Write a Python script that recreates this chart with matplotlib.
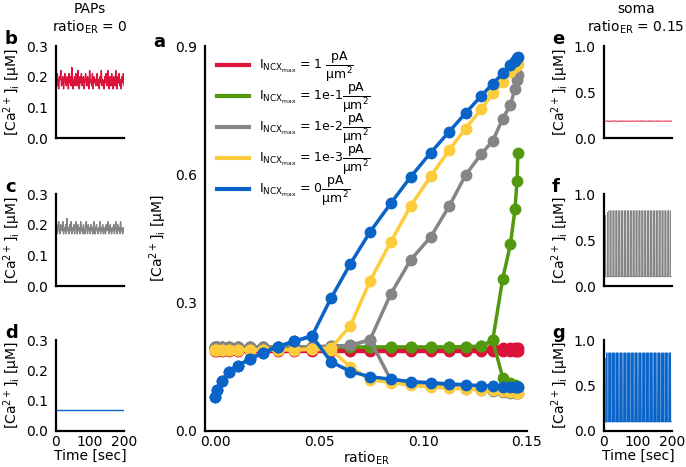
import numpy as np
import matplotlib
matplotlib.use('Agg')
import matplotlib.pyplot as plt
from matplotlib.lines import Line2D

plt.rcParams['font.family'] = ['DejaVu Sans']
plt.rcParams['mathtext.default'] = 'regular'

# ---- colours for the five I_NCXmax values
c_red = '#dc143c'
c_green = '#52990f'
c_gray = '#858585'
c_yellow = '#fdcc3c'
c_blue = '#0a64c8'

# ---- panel a: steady state [Ca2+]i (max / min) vs ratio_ER
ratio_er = [0.0, 0.0008, 0.003, 0.0065, 0.011, 0.0165, 0.023, 0.030, 0.038, 0.0465,
            0.0556, 0.065, 0.0744, 0.0844, 0.094, 0.1037, 0.1126, 0.1204, 0.1279, 0.1335,
            0.1383, 0.142, 0.1442, 0.1452, 0.1456]

red_max = [0.194] * 25
red_min = [0.188] * 25

green_max = [0.196, 0.196, 0.196, 0.196, 0.196, 0.196, 0.196, 0.196, 0.196, 0.196,
             0.196, 0.196, 0.196, 0.196, 0.196, 0.196, 0.196, 0.197, 0.198, 0.212,
             0.356, 0.436, 0.518, 0.585, 0.651]
green_min = [0.196, 0.196, 0.196, 0.196, 0.196, 0.196, 0.196, 0.196, 0.196, 0.196,
             0.196, 0.196, 0.196, 0.196, 0.196, 0.196, 0.196, 0.197, 0.198, 0.212,
             0.125, 0.112, 0.107, 0.105, 0.104]

gray_max = [0.197, 0.197, 0.197, 0.197, 0.197, 0.197, 0.197, 0.197, 0.197, 0.197,
            0.198, 0.200, 0.213, 0.320, 0.400, 0.454, 0.526, 0.598, 0.647, 0.678,
            0.730, 0.762, 0.800, 0.820, 0.832]
gray_min = [0.197, 0.197, 0.197, 0.197, 0.197, 0.197, 0.197, 0.197, 0.197, 0.197,
            0.198, 0.200, 0.213, 0.120, 0.112, 0.106, 0.102, 0.099, 0.096, 0.094,
            0.092, 0.090, 0.089, 0.088, 0.088]

yellow_max = [0.190, 0.190, 0.190, 0.190, 0.190, 0.190, 0.190, 0.190, 0.190, 0.191,
              0.194, 0.246, 0.350, 0.442, 0.526, 0.596, 0.657, 0.707, 0.752, 0.789,
              0.815, 0.840, 0.850, 0.855, 0.857]
yellow_min = [0.190, 0.190, 0.190, 0.190, 0.190, 0.190, 0.190, 0.190, 0.190, 0.191,
              0.190, 0.150, 0.120, 0.113, 0.107, 0.103, 0.100, 0.098, 0.096, 0.095,
              0.093, 0.092, 0.091, 0.090, 0.090]

blue_max = [0.080, 0.095, 0.118, 0.138, 0.153, 0.168, 0.183, 0.197, 0.210, 0.222,
            0.310, 0.391, 0.465, 0.532, 0.594, 0.651, 0.700, 0.743, 0.783, 0.812,
            0.836, 0.855, 0.866, 0.872, 0.875]
blue_min = [0.080, 0.095, 0.118, 0.138, 0.153, 0.168, 0.183, 0.197, 0.210, 0.222,
            0.162, 0.139, 0.127, 0.121, 0.1155, 0.113, 0.110, 0.108, 0.106, 0.105,
            0.104, 0.103, 0.103, 0.102, 0.102]

legend_labels = [r'$I_{NCX_{max}}$ = 1 $\dfrac{pA}{\mu m^2}$',
                 r'$I_{NCX_{max}}$ = 1e-1$\dfrac{pA}{\mu m^2}$',
                 r'$I_{NCX_{max}}$ = 1e-2$\dfrac{pA}{\mu m^2}$',
                 r'$I_{NCX_{max}}$ = 1e-3$\dfrac{pA}{\mu m^2}$',
                 r'$I_{NCX_{max}}$ = 0$\dfrac{pA}{\mu m^2}$']

# ---- time traces (sampled every 2 s over 200 s)
b_vals = [0.19, 0.17, 0.21, 0.18, 0.16, 0.20, 0.19, 0.22, 0.17, 0.18,
          0.20, 0.16, 0.19, 0.21, 0.18, 0.17, 0.20, 0.19, 0.16, 0.21,
          0.18, 0.20, 0.17, 0.23, 0.18, 0.16, 0.19, 0.20, 0.17, 0.21,
          0.19, 0.17, 0.22, 0.18, 0.16, 0.20, 0.18, 0.21, 0.17, 0.19,
          0.20, 0.16, 0.18, 0.21, 0.19, 0.17, 0.20, 0.18, 0.16, 0.22,
          0.18, 0.19, 0.17, 0.21, 0.16, 0.20, 0.18, 0.19, 0.17, 0.20,
          0.21, 0.17, 0.19, 0.16, 0.20, 0.18, 0.22, 0.17, 0.19, 0.18,
          0.16, 0.20, 0.18, 0.21, 0.17, 0.19, 0.22, 0.16, 0.18, 0.20,
          0.17, 0.21, 0.19, 0.16, 0.20, 0.18, 0.17, 0.22, 0.19, 0.16,
          0.20, 0.18, 0.21, 0.17, 0.19, 0.16, 0.20, 0.18, 0.21, 0.17]
c_vals = [0.18, 0.20, 0.17, 0.19, 0.21, 0.18, 0.17, 0.20, 0.19, 0.18,
          0.21, 0.17, 0.19, 0.18, 0.20, 0.17, 0.22, 0.18, 0.19, 0.17,
          0.20, 0.18, 0.21, 0.17, 0.19, 0.18, 0.20, 0.17, 0.19, 0.21,
          0.18, 0.17, 0.20, 0.18, 0.19, 0.17, 0.21, 0.18, 0.19, 0.17,
          0.20, 0.18, 0.17, 0.19, 0.21, 0.18, 0.17, 0.20, 0.18, 0.19,
          0.17, 0.20, 0.18, 0.19, 0.17, 0.21, 0.18, 0.17, 0.19, 0.20,
          0.18, 0.17, 0.19, 0.18, 0.21, 0.17, 0.19, 0.18, 0.20, 0.17,
          0.19, 0.18, 0.17, 0.20, 0.18, 0.19, 0.21, 0.17, 0.18, 0.20,
          0.18, 0.17, 0.19, 0.18, 0.20, 0.17, 0.19, 0.21, 0.18, 0.17,
          0.20, 0.18, 0.19, 0.17, 0.21, 0.18, 0.19, 0.17, 0.19, 0.18]
d_vals = [0.07] * 100
e_vals = [0.12, 0.19, 0.18, 0.185, 0.18, 0.19, 0.18, 0.185, 0.175, 0.19,
          0.18, 0.185, 0.18, 0.19, 0.178, 0.186, 0.18, 0.19, 0.18, 0.184,
          0.176, 0.19, 0.18, 0.186, 0.18, 0.19, 0.178, 0.185, 0.18, 0.19,
          0.18, 0.184, 0.178, 0.19, 0.18, 0.186, 0.18, 0.19, 0.177, 0.185,
          0.18, 0.19, 0.18, 0.184, 0.178, 0.19, 0.18, 0.186, 0.18, 0.19,
          0.18, 0.185, 0.177, 0.19, 0.18, 0.186, 0.18, 0.19, 0.178, 0.185,
          0.18, 0.19, 0.18, 0.184, 0.178, 0.19, 0.18, 0.186, 0.18, 0.19,
          0.178, 0.185, 0.18, 0.19, 0.18, 0.184, 0.177, 0.19, 0.18, 0.186,
          0.18, 0.19, 0.178, 0.185, 0.18, 0.19, 0.18, 0.184, 0.178, 0.19,
          0.18, 0.186, 0.18, 0.19, 0.177, 0.185, 0.18, 0.19, 0.18, 0.184]
trace_t = np.linspace(0, 200, 100)

# spiking traces: spike times [s] and peak values [uM]
f_spike_t = [5, 10, 14.5, 19, 23.5, 28, 32.5, 37, 41.5, 46, 50.5, 55, 59.5, 64,
             68.5, 73, 77.5, 82, 86.5, 91, 95.5, 100, 104.5, 109, 113.5, 118, 122.5,
             127, 131.5, 136, 140.5, 145, 149.5, 154, 158.5, 163, 167.5, 172, 176.5,
             181, 185.5, 190, 194.5]
f_peaks = [0.77, 0.80] + [0.82] * 41
f_base = 0.10
g_spike_t = [3, 8, 12, 16, 20, 24, 28, 32, 36, 40, 44, 48, 52, 56, 60, 64, 68, 72,
             76, 80, 84, 88, 92, 96, 100, 104, 108, 112, 116, 120, 124, 128, 132,
             136, 140, 144, 148, 152, 156, 160, 164, 168, 172, 176, 180, 184, 188,
             192, 196]
g_peaks = [0.80] + [0.86] * 48
g_base = 0.10


def spikes(times, peaks, base):
    t, y = [0], [base]
    for ts, p in zip(times, peaks):
        t += [ts - 0.5, ts, ts + 0.6]
        y += [base, p, base]
    t.append(200)
    y.append(base)
    return t, y


fig = plt.figure(figsize=(6.86, 4.67), dpi=100)

W, H = 686, 467


def add_ax(x0, y0, x1, y1):
    return fig.add_axes([x0 / W, 1 - y1 / H, (x1 - x0) / W, (y1 - y0) / H])


def style(ax):
    for s in ['top', 'right']:
        ax.spines[s].set_visible(False)
    for s in ['left', 'bottom']:
        ax.spines[s].set_linewidth(1.6)
    ax.tick_params(length=0, labelsize=10, pad=6)
    ax.tick_params(axis='x', pad=3)


ylab = r'[Ca$^{2+}$]$_i$ [μM]'

# ---- main panel
ax = add_ax(205, 46, 527, 431)
style(ax)
series = [(red_max, red_min, c_red), (green_max, green_min, c_green),
          (gray_max, gray_min, c_gray), (yellow_max, yellow_min, c_yellow),
          (blue_max, blue_min, c_blue)]
for ymax, ymin, col in series:
    ax.plot(ratio_er, ymin, '-o', color=col, lw=2.5, ms=7.5, mec=col)
    ax.plot(ratio_er, ymax, '-o', color=col, lw=2.5, ms=7.5, mec=col)
ax.set_xlim(-0.005, 0.15)
ax.set_ylim(0, 0.9)
ax.set_xticks([0, 0.05, 0.10, 0.15])
ax.set_xticklabels(['0.00', '0.05', '0.10', '0.15'])
ax.set_yticks([0, 0.3, 0.6, 0.9])
ax.set_yticklabels(['0.0', '0.3', '0.6', '0.9'])
ax.set_xlabel(r'ratio$_{ER}$', fontsize=10, labelpad=0)
ax.set_ylabel(ylab, fontsize=10, labelpad=4)
handles = [Line2D([], [], color=col, lw=3) for _, _, col in series]
ax.legend(handles, legend_labels, loc='upper left', bbox_to_anchor=(0.015, 1.01),
          frameon=False, fontsize=9, handlelength=2.5, handletextpad=0.8,
          labelspacing=-0.25, borderaxespad=0.2)
fig.text(153 / W, 1 - 42 / H, 'a', fontsize=13, fontweight='bold', va='center')

# ---- left panels (PAPs, ratio_ER = 0)
left_rows = [(46, 138, b_vals, c_red, 'b'), (194, 286, c_vals, c_gray, 'c'),
             (340, 431, d_vals, c_blue, 'd')]
for y0, y1, vals, col, lab in left_rows:
    a = add_ax(56, y0, 124, y1)
    style(a)
    a.plot(trace_t, vals, color=col, lw=1)
    a.set_xlim(0, 200)
    a.set_ylim(0, 0.3)
    a.set_yticks([0, 0.1, 0.2, 0.3])
    a.set_yticklabels(['0.0', '0.1', '0.2', '0.3'])
    a.set_ylabel(ylab, fontsize=10, labelpad=2)
    if lab == 'd':
        a.set_xticks([0, 100, 200])
        a.set_xlabel('Time [sec]', fontsize=10, labelpad=0)
    else:
        a.set_xticks([])
    fig.text(5 / W, 1 - (y0 - 7) / H, lab, fontsize=13, fontweight='bold', va='center')

fig.text(90 / W, 1 - 9 / H, 'PAPs', fontsize=10, ha='center', va='center')
fig.text(90 / W, 1 - 27 / H, r'ratio$_{ER}$ = 0', fontsize=10, ha='center', va='center')

# ---- right panels (soma, ratio_ER = 0.15)
f_t, f_y = spikes(f_spike_t, f_peaks, f_base)
g_t, g_y = spikes(g_spike_t, g_peaks, g_base)
right_rows = [(46, 138, trace_t, e_vals, c_red, 'e'), (194, 286, f_t, f_y, c_gray, 'f'),
              (340, 431, g_t, g_y, c_blue, 'g')]
for y0, y1, tt, vals, col, lab in right_rows:
    a = add_ax(604, y0, 672, y1)
    style(a)
    a.plot(tt, vals, color=col, lw=0.5)
    a.set_xlim(0, 200)
    a.set_ylim(0, 1.0)
    a.set_yticks([0, 0.5, 1.0])
    a.set_yticklabels(['0.0', '0.5', '1.0'])
    a.set_ylabel(ylab, fontsize=10, labelpad=2)
    if lab == 'g':
        a.set_xticks([0, 100, 200])
        a.set_xlabel('Time [sec]', fontsize=10, labelpad=0)
    else:
        a.set_xticks([])
    fig.text(552 / W, 1 - (y0 - 7) / H, lab, fontsize=13, fontweight='bold', va='center')

fig.text(636 / W, 1 - 9 / H, 'soma', fontsize=10, ha='center', va='center')
fig.text(636 / W, 1 - 27 / H, r'ratio$_{ER}$ = 0.15', fontsize=10, ha='center', va='center')

fig.savefig('out.png', dpi=100)
